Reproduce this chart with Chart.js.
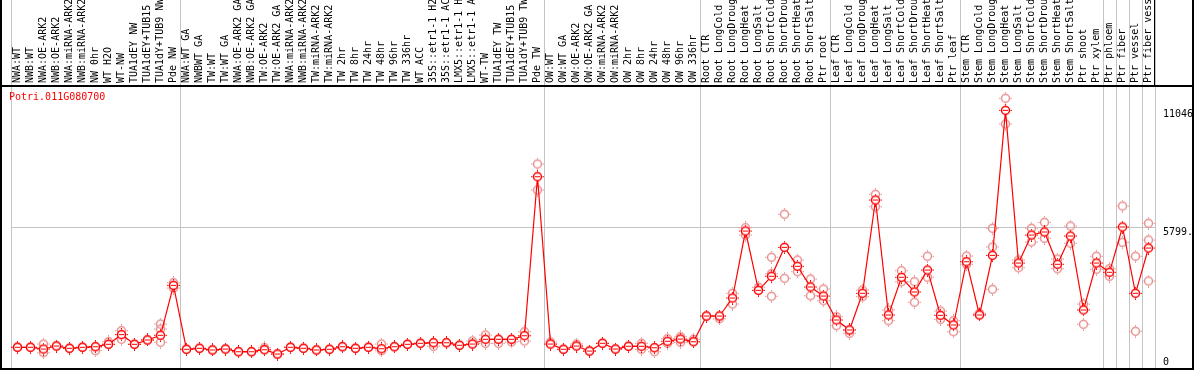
<!DOCTYPE html>
<html>
<head>
<meta charset="utf-8">
<script src="https://cdn.jsdelivr.net/npm/chart.js@4"></script>
<style>
  body { margin: 0; background: #fff; }
  canvas { display: block; }
</style>
</head>
<body>
<canvas id="efpChart" width="1194" height="370"></canvas>
<script>
const geneName = 'Potri.011G080700';

const sampleLabels = [
  'NWA:WT', 'NWB:WT', 'NWA:OE-ARK2', 'NWB:OE-ARK2', 'NWA:miRNA-ARK2', 'NWB:miRNA-ARK2', 'NW 0hr', 'WT H2O', 'WT-NW',
  'TUA1dEY NW', 'TUA1dEY+TUB15 NW', 'TUA1dY+TUB9 NW', 'Pde NW',
  'NWA:WT GA', 'NWBWT GA', 'TW:WT', 'TW:WT GA', 'NWA:OE-ARK2 GA', 'NWB:OE-ARK2 GA', 'TW:OE-ARK2', 'TW:OE-ARK2 GA',
  'NWA:miRNA-ARK2', 'NWB:miRNA-ARK2', 'TW:miRNA-ARK2', 'TW:miRNA-ARK2', 'TW 2hr', 'TW 8hr', 'TW 24hr', 'TW 48hr',
  'TW 96hr', 'TW 336hr', 'WT ACC', '35S::etr1-1 H2O', '35S::etr1-1 ACC', 'LMX5::etr1-1 H2O', 'LMX5::etr1-1 ACC',
  'WT-TW', 'TUA1dEY TW', 'TUA1dEY+TUB15 TW', 'TUA1dY+TUB9 TW', 'Pde TW',
  'OW:WT', 'OW:WT GA', 'OW:OE-ARK2', 'OW:OE-ARK2 GA', 'OW:miRNA-ARK2', 'OW:miRNA-ARK2', 'OW 2hr', 'OW 8hr',
  'OW 24hr', 'OW 48hr', 'OW 96hr', 'OW 336hr',
  'Root CTR', 'Root LongCold', 'Root LongDrought', 'Root LongHeat', 'Root LongSalt', 'Root ShortCold',
  'Root ShortDrought', 'Root ShortHeat', 'Root ShortSalt', 'Ptr root',
  'Leaf CTR', 'Leaf LongCold', 'Leaf LongDrought', 'Leaf LongHeat', 'Leaf LongSalt', 'Leaf ShortCold',
  'Leaf ShortDrought', 'Leaf ShortHeat', 'Leaf ShortSalt', 'Ptr leaf',
  'Stem CTR', 'Stem LongCold', 'Stem LongDrought', 'Stem LongHeat', 'Stem LongSalt', 'Stem ShortCold',
  'Stem ShortDrought', 'Stem ShortHeat', 'Stem ShortSalt', 'Ptr shoot', 'Ptr xylem',
  'Ptr phloem', 'Ptr fiber', 'Ptr vessel', 'Ptr fiber vessel'
];

// sample means
const meanValues = [
  477, 477, 401, 535, 433, 477, 504, 611, 1043, 611, 803, 1012, 3242,
  388, 433, 357, 401, 281, 281, 370, 178, 477, 433, 357, 388, 504, 433, 477, 415, 504, 611, 656, 682,
  682, 566, 624, 834, 834, 834, 995, 8086,
  624, 388, 535, 312, 656, 401, 522, 522, 459, 745, 847, 727,
  1873, 1873, 2676, 5664, 3019, 3644, 4937, 4090, 3167, 2765,
  1695, 1249, 2886, 7047, 1918, 3599, 2944, 3925, 1904, 1472,
  4295, 1918, 4580, 11046, 4237, 5486, 5620, 4179, 5441, 2141, 4237,
  3822, 5843, 2886, 4906
];

// replicates
const rep1 = [
  477, 477, 624, 535, 433, 477, 504, 727, 1218, 611, 803, 1516, 3358,
  388, 433, 357, 401, 281, 281, 459, 178, 477, 433, 357, 388, 504, 433, 477, 624, 504, 611, 656, 682,
  682, 566, 758, 1026, 834, 834, 1173, 8652,
  714, 388, 624, 312, 656, 401, 522, 656, 459, 861, 950, 834,
  1873, 1873, 2886, 5811, 3153, 4491, 6409, 4371, 3523, 3077,
  1842, 1249, 3033, 7301, 2141, 3894, 3403, 4536, 2096, 1664,
  4549, 1994, 5785, 11583, 4371, 5785, 6052, 4415, 5887, 2408, 4536,
  3983, 6779, 4536, 6008
];

const rep2 = [
  477, 477, 236, 535, 433, 477, 326, 611, 834, 611, 803, 700, 3122,
  388, 433, 357, 401, 281, 281, 370, 178, 477, 433, 357, 388, 504, 433, 477, 326, 504, 611, 656, 522,
  682, 566, 624, 656, 656, 714, 758, 7493,
  624, 388, 535, 312, 656, 401, 522, 388, 281, 656, 700, 727,
  1873, 1753, 2408, 5486, 3019, 2752, 3555, 3849, 2779, 2556,
  1441, 1102, 2734, 6748, 1664, 3403, 2484, 3599, 1726, 1173,
  4179, 1918, 3064, 10436, 4027, 5174, 5339, 3983, 5116, 1503, 3956,
  3644, 5160, 1191, 3434
];

const rep3 = [
  null, null, null, null, null, null, null, null, null, null, null, 1293, null,
  null, null, null, null, null, null, null, null, null, null, null, null, null, null, null, null, null, null, null, null,
  null, null, null, null, null, null, null, null,
  null, null, null, null, null, null, null, null, null, null, null, null,
  null, null, null, null, null, 3760, null, null, null, null,
  null, null, null, null, null, null, null, null, null, null,
  null, null, 4951, null, null, null, null, null, null, null, null,
  null, null, null, 5263
];

const yTicks = [0, 5799, 11046];
const yTickLabels = ['0', '5799.', '11046.'];
const groupEdges = [0, 13, 41, 53, 63, 73, 84, 85, 86, 87, 88];

const monoFont = 'DejaVu Sans Mono';

function makeMarker(color, innerDash) {
    const c = document.createElement('canvas');
    c.width = 13;
    c.height = 13;
    const g = c.getContext('2d');
    g.strokeStyle = color;
    g.lineWidth = 1.5;
    g.beginPath();
    g.arc(6.5, 6.5, 4, 0, Math.PI * 2);
    if (innerDash) {
        g.fillStyle = '#fff';
        g.fill();
    }
    g.stroke();
    g.lineWidth = 1;
    g.beginPath();
    g.moveTo(6.5, 0); g.lineTo(6.5, 1.5);
    g.moveTo(6.5, 11.5); g.lineTo(6.5, 13);
    g.moveTo(0, 6.5); g.lineTo(1.5, 6.5);
    g.moveTo(11.5, 6.5); g.lineTo(13, 6.5);
    if (innerDash) { g.moveTo(4, 6.5); g.lineTo(9, 6.5); }
    g.stroke();
    return c;
}

const redMarker = makeMarker('#ff0000', true);
const pinkMarker = makeMarker('#e99090', false);

const framePlugin = {
    id: 'frame',
    beforeDatasetsDraw(chart) {
        const ctx = chart.ctx;
        const x = chart.scales.x;
        const area = chart.chartArea;
        const step = x.getPixelForValue(1) - x.getPixelForValue(0);
        ctx.save();
        ctx.strokeStyle = '#c4c4c4';
        ctx.lineWidth = 1;
        groupEdges.forEach(function (i) {
            const px = Math.round(x.getPixelForValue(0) - step / 2 + i * step) + 0.5;
            ctx.beginPath();
            ctx.moveTo(px, 0);
            ctx.lineTo(px, area.bottom);
            ctx.stroke();
        });
        ctx.restore();
    },
    afterDraw(chart) {
        const ctx = chart.ctx;
        const area = chart.chartArea;
        const w = chart.width;
        ctx.save();
        ctx.strokeStyle = '#000';
        ctx.lineWidth = 2;
        ctx.beginPath();
        ctx.moveTo(0, area.top);
        ctx.lineTo(w, area.top);
        ctx.moveTo(0, area.bottom + 1);
        ctx.lineTo(w, area.bottom + 1);
        ctx.moveTo(1, 0);
        ctx.lineTo(1, area.bottom + 1);
        ctx.moveTo(w - 1, 0);
        ctx.lineTo(w - 1, area.bottom + 1);
        ctx.stroke();
        ctx.lineWidth = 1;
        ctx.beginPath();
        ctx.moveTo(Math.round(area.right) - 0.5, 0);
        ctx.lineTo(Math.round(area.right) - 0.5, area.top);
        ctx.stroke();

        ctx.fillStyle = '#ff0000';
        ctx.font = '10px "' + monoFont + '"';
        ctx.textBaseline = 'middle';
        ctx.textAlign = 'left';
        ctx.fillText(geneName, 9, area.top + 11);
        ctx.restore();
    }
};

function noScalePadding(scale) {
    scale.paddingTop = 0;
    scale.paddingBottom = 0;
    scale.paddingLeft = 0;
    scale.paddingRight = 0;
}

new Chart(document.getElementById('efpChart'), {
    type: 'line',
    data: {
        labels: sampleLabels,
        datasets: [
            {
                label: 'mean',
                data: meanValues,
                borderColor: '#ff0000',
                borderWidth: 1.2,
                pointStyle: redMarker,
                pointRadius: 5,
                tension: 0
            },
            { label: 'rep1', data: rep1, showLine: false, pointStyle: pinkMarker, pointRadius: 5 },
            { label: 'rep2', data: rep2, showLine: false, pointStyle: pinkMarker, pointRadius: 5 },
            { label: 'rep3', data: rep3, showLine: false, pointStyle: pinkMarker, pointRadius: 5 }
        ]
    },
    options: {
        responsive: false,
        animation: false,
        layout: { autoPadding: false, padding: { left: 11, right: 0, top: 0, bottom: 2 } },
        plugins: {
            legend: { display: false },
            tooltip: { enabled: false }
        },
        scales: {
            x: {
                position: 'top',
                offset: true,
                grid: { display: false, drawTicks: false },
                border: { display: false },
                ticks: {
                    autoSkip: false,
                    minRotation: 90,
                    maxRotation: 90,
                    padding: 3,
                    labelOffset: 12,
                    color: '#000',
                    font: { family: monoFont, size: 10 }
                },
                afterFit(scale) {
                    scale.height = 86;
                    noScalePadding(scale);
                }
            },
            y: {
                position: 'right',
                min: -446,
                max: 12132,
                afterBuildTicks(scale) {
                    scale.ticks = yTicks.map(v => ({ value: v }));
                },
                grid: {
                    drawTicks: false,
                    color: c => (c.tick && c.tick.value === 5799 ? '#c4c4c4' : 'rgba(0,0,0,0)')
                },
                border: { display: false },
                ticks: {
                    padding: 8,
                    labelOffset: 4,
                    color: '#000',
                    font: { family: monoFont, size: 10 },
                    callback: function (value) {
                        const i = yTicks.indexOf(value);
                        return i >= 0 ? yTickLabels[i] : '';
                    }
                },
                afterFit(scale) {
                    scale.width = 39;
                    noScalePadding(scale);
                }
            }
        }
    },
    plugins: [framePlugin]
});
</script>
</body>
</html>
